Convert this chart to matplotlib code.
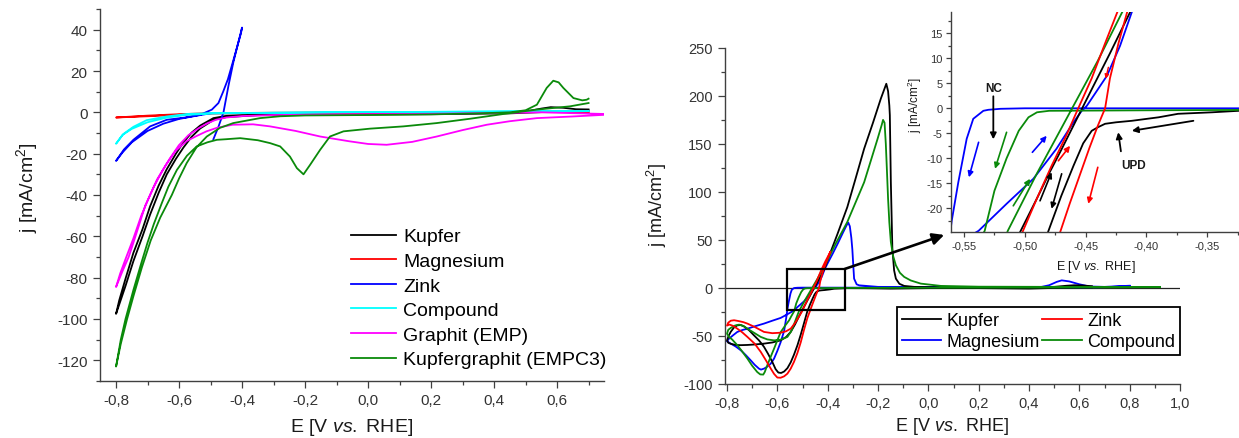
import matplotlib
matplotlib.use('Agg')
import matplotlib.pyplot as plt
from matplotlib.ticker import MultipleLocator, FuncFormatter
from matplotlib.patches import Rectangle
from matplotlib.lines import Line2D

# ---------------- data: left panel (E / V vs RHE, j / mA cm-2) ----------------
left_labels = ["Kupfer", "Magnesium", "Zink", "Compound", "Graphit (EMP)", "Kupfergraphit (EMPC3)"]

lk_E = [0.70, 0.60, 0.45, 0.20, -0.10, -0.35, -0.45, -0.49, -0.533, -0.56, -0.586, -0.61, -0.639, -0.665, -0.692, -0.716, -0.745, -0.77, -0.80,
        -0.79, -0.77, -0.745, -0.716, -0.692, -0.665, -0.639, -0.61, -0.586, -0.56, -0.533, -0.491, -0.45, -0.40, -0.20, 0.10, 0.40, 0.50, 0.55, 0.58, 0.62, 0.66, 0.70]
lk_j = [0.8, 0.4, -0.5, -0.9, -1.1, -1.4, -2.3, -3.6, -7.8, -11.8, -17, -22.5, -30, -39, -49.5, -60, -72, -84, -97.5,
        -91, -80.5, -68, -56.5, -45.5, -35.5, -27.5, -20, -14.5, -9.8, -6.4, -2.8, -1.7, -1.3, -1.0, -0.7, -0.3, 0.4, 1.8, 2.5, 2.2, 1.5, 1.4]

lm_E = [0.70, 0.30, 0.00, -0.30, -0.50, -0.60, -0.70, -0.80, -0.70, -0.60, -0.50, -0.30, 0.00, 0.30, 0.70]
lm_j = [0.2, 0.0, -0.1, -0.2, -0.4, -0.9, -1.6, -2.5, -1.9, -1.2, -0.6, -0.3, -0.1, 0.0, 0.2]

lz_E = [-0.491, -0.475, -0.459, -0.443, -0.428, -0.415, -0.400, -0.404, -0.415, -0.428, -0.445, -0.460, -0.475, -0.496, -0.533,
        -0.580, -0.639, -0.692, -0.745, -0.775, -0.800, -0.780, -0.750, -0.700, -0.650, -0.600, -0.550, -0.520, -0.500]
lz_j = [-13, -7, 0, 13, 24, 32, 41, 38, 32, 25, 16, 10, 4.5, 1.3, -1.2,
        -2.5, -3.6, -6.8, -13.3, -18, -23.5, -19.5, -14.5, -9, -5.5, -3.2, -1.8, -1.0, -0.5]

lc_E = [0.70, 0.30, 0.00, -0.30, -0.50, -0.576, -0.639, -0.703, -0.745, -0.777, -0.800, -0.780, -0.750, -0.700, -0.640, -0.580, -0.500, -0.300, 0.00, 0.30, 0.70]
lc_j = [0.6, 0.3, 0.1, -0.2, -0.4, -0.8, -2.0, -3.8, -7.0, -10.5, -15.2, -11.0, -8.0, -4.8, -2.6, -1.3, -0.6, -0.2, 0.1, 0.3, 0.6]

lg_E = [0.75, 0.65, 0.536, 0.45, 0.377, 0.30, 0.218, 0.14, 0.059, 0.00, -0.06, -0.152, -0.23, -0.311, -0.365, -0.43, -0.48,
        -0.513, -0.545, -0.577, -0.61, -0.64, -0.67, -0.692, -0.72, -0.745, -0.77, -0.787, -0.80,
        -0.78, -0.76, -0.749, -0.73, -0.707, -0.68, -0.654, -0.63, -0.601, -0.57, -0.537, -0.51, -0.483, -0.45, -0.40, -0.30, -0.10, 0.20, 0.40, 0.55, 0.75]
lg_j = [-1.2, -2.0, -2.8, -4.3, -6.0, -8.6, -11.7, -14.3, -15.7, -15.3, -14.0, -11.7, -9.0, -6.8, -5.8, -6.0, -7.5,
        -9.2, -11.5, -14.0, -18.5, -25.0, -32.5, -40.0, -50.0, -61.0, -71.0, -78.0, -84.5,
        -77.0, -70.0, -65.0, -56.0, -45.0, -36.0, -28.6, -22.5, -16.0, -11.0, -7.6, -5.3, -3.6, -2.5, -1.8, -1.3, -1.0, -0.7, -0.3, 0.0, -0.8]

lkg_E = [0.70, 0.641, 0.535, 0.43, 0.324, 0.218, 0.112, 0.006, -0.078, -0.121, -0.152, -0.184, -0.205, -0.226, -0.248, -0.279, -0.311,
         -0.35, -0.406, -0.45, -0.48, -0.51, -0.544, -0.575, -0.607, -0.634, -0.655, -0.68, -0.70, -0.72, -0.745, -0.77, -0.785, -0.80,
         -0.785, -0.765, -0.745, -0.718, -0.69, -0.66, -0.623, -0.60, -0.576, -0.545, -0.512, -0.47, -0.428, -0.343, -0.279, -0.20,
         0.00, 0.20, 0.35, 0.45, 0.50, 0.536, 0.567, 0.588, 0.605, 0.62, 0.652, 0.68, 0.694, 0.70]
lkg_j = [4.5, 2.9, 1.3, -0.8, -3.1, -5.2, -6.8, -7.9, -9.2, -11.7, -18.1, -25.4, -30.0, -27.0, -21.4, -16.5, -14.9,
         -13.5, -12.5, -13.0, -13.3, -14.5, -16.5, -21.0, -27.9, -36.0, -44.0, -54.0, -63.0, -73.0, -86.0, -100.0, -110.0, -123.0,
         -112, -100, -89, -75, -62, -51, -40, -32, -24.6, -17, -11.7, -7.5, -5.2, -2.8, -1.9, -1.5,
         -1.3, -1.0, -0.5, 0.0, 1.0, 3.7, 11.8, 15.3, 14.5, 11.8, 6.9, 5.8, 6.1, 6.6]

# ---------------- data: right panel ----------------
right_labels = ["Kupfer", "Magnesium", "Zink", "Compound"]

rk_E = [0.65, 0.50, 0.40, 0.20, 0.00, -0.15, -0.25, -0.324, -0.346, -0.374, -0.390, -0.412, -0.425, -0.434, -0.440, -0.445, -0.452, -0.460, -0.470, -0.481,
        -0.494, -0.507, -0.520, -0.534, -0.547, -0.560, -0.573, -0.585, -0.596, -0.607, -0.620, -0.637, -0.653, -0.673, -0.693, -0.712, -0.732, -0.745, -0.759, -0.772,
        -0.785, -0.793, -0.800,
        -0.795, -0.785, -0.765, -0.745, -0.720, -0.690, -0.653, -0.620, -0.587, -0.565, -0.547, -0.530, -0.514, -0.504, -0.490, -0.480, -0.470, -0.457, -0.445, -0.430,
        -0.4135, -0.390, -0.361, -0.322, -0.290, -0.255, -0.220, -0.189, -0.175, -0.167, -0.160, -0.155, -0.153, -0.149, -0.143, -0.136, -0.129, -0.115, -0.096, -0.056,
        0.00, 0.20, 0.40, 0.50, 0.55, 0.58, 0.61, 0.65]
rk_j = [0.3, -0.3, -1.0, -0.5, -0.5, -1.0, -0.6, -0.5, -0.8, -1.1, -1.8, -2.5, -2.8, -3.1, -3.8, -4.5, -7.0, -11.5, -17.5, -24.8,
        -37.0, -49.0, -60.0, -70.0, -78.0, -84.0, -87.5, -89.0, -88.6, -85.0, -77.5, -69.0, -61.8, -55.0, -49.7, -44.5, -40.5, -39.0, -39.3, -41.5,
        -46.0, -50.0, -55.0,
        -57.5, -58.6, -59.8, -60.0, -59.8, -59.3, -58.4, -57.2, -55.0, -51.5, -46.2, -38.5, -30.0, -24.8, -18.0, -13.0, -8.3, -2.0, 3.8, 11.0,
        19.2, 36.0, 56.0, 84.0, 113.0, 145.0, 172.0, 197.0, 207.0, 212.7, 205.0, 190.0, 180.0, 110.0, 41.0, 18.0, 9.4, 4.0, 1.8, 0.8,
        0.5, 0.4, 0.5, 0.8, 2.0, 2.5, 2.3, 1.5]

rm_E = [0.80, 0.70, 0.60, 0.40, 0.20, 0.00, -0.20, -0.40, -0.50, -0.52, -0.530, -0.5341, -0.5424, -0.5478, -0.5547, -0.5601, -0.565, -0.573, -0.587, -0.600,
        -0.613, -0.626, -0.640, -0.653, -0.665, -0.673, -0.690, -0.706, -0.725, -0.745, -0.765, -0.785, -0.800,
        -0.792, -0.775, -0.759, -0.740, -0.719, -0.685, -0.653, -0.620, -0.587, -0.565, -0.547, -0.538, -0.515, -0.493, -0.474, -0.460, -0.4532, -0.449, -0.4325, -0.4217,
        -0.4121, -0.400, -0.380, -0.360, -0.340, -0.325, -0.318, -0.312, -0.306, -0.302, -0.298, -0.295, -0.285, -0.275, -0.20,
        0.00, 0.20, 0.40, 0.45, 0.48, 0.51, 0.53, 0.56, 0.60, 0.64, 0.70, 0.80]
rm_j = [1.5, 0.5, 0.2, 0.0, 0.0, 0.0, 0.0, 0.0, 0.0, -0.1, -0.3, -0.5, -2.1, -6.1, -14.8, -22.5, -32.0, -45.0, -57.0, -66.0,
        -74.0, -79.2, -82.5, -84.5, -85.5, -84.5, -80.5, -75.8, -70.5, -65.4, -61.5, -58.4, -56.0,
        -53.2, -49.5, -46.2, -44.3, -42.8, -40.0, -37.5, -34.5, -31.6, -28.5, -25.8, -24.5, -19.1, -14.1, -8.1, -2.8, -0.5, 0.5, 6.5, 12.5,
        19.2, 25.5, 35.5, 46.0, 57.0, 65.0, 67.8, 64.0, 52.0, 40.0, 22.0, 9.4, 3.5, 2.4, 0.8,
        0.5, 0.5, 0.5, 0.8, 2.5, 6.0, 7.6, 6.5, 3.5, 1.2, 0.8, 2.0]

rz_E = [-0.390, -0.405, -0.415, -0.423, -0.430, -0.434, -0.440, -0.447, -0.455, -0.463, -0.471, -0.481, -0.494, -0.507, -0.520, -0.534, -0.547, -0.560, -0.573, -0.587,
        -0.600, -0.613, -0.626, -0.645, -0.666, -0.690, -0.719, -0.740, -0.759, -0.775, -0.790, -0.800,
        -0.795, -0.785, -0.772, -0.755, -0.735, -0.719, -0.690, -0.653, -0.620, -0.587, -0.565, -0.547, -0.530, -0.517, -0.502, -0.490, -0.478, -0.466, -0.457, -0.445,
        -0.434, -0.424, -0.410, -0.390]
rz_j = [37, 27, 20, 13, 6, 0, -3.5, -8, -13.5, -19, -24.8, -32, -44, -57, -68, -77.5, -84.5, -89.7, -92.5, -94,
        -93.8, -90, -84.5, -76, -67, -58.5, -51.4, -46.5, -42.8, -40, -38.5, -39.6,
        -36.5, -34.5, -34, -34.8, -36, -37.5, -41, -46.2, -47.5, -47, -45.5, -42.8, -37, -31.5, -24.8, -18, -11.5, -5.5, -0.5, 6,
        13, 19.2, 27, 37]

rc_E = [0.92, 0.60, 0.20, -0.20, -0.40, -0.48, -0.490, -0.497, -0.505, -0.515, -0.525, -0.533, -0.545, -0.553, -0.570, -0.587, -0.600, -0.613, -0.627, -0.640,
        -0.650, -0.656, -0.668, -0.680, -0.700, -0.719, -0.740, -0.759, -0.780, -0.792, -0.800,
        -0.795, -0.785, -0.768, -0.752, -0.735, -0.719, -0.690, -0.666, -0.640, -0.613, -0.587, -0.560, -0.545, -0.532, -0.522, -0.514, -0.490, -0.470, -0.460, -0.440,
        -0.420, -0.414, -0.370, -0.322, -0.255, -0.202, -0.185, -0.180, -0.174, -0.169, -0.165, -0.160, -0.155, -0.149, -0.140, -0.129, -0.113, -0.096, -0.070, -0.030,
        0.050, 0.200, 0.500, 0.920]
rc_j = [0.5, 0.2, 0.0, -0.2, -0.4, -0.5, -0.8, -1.8, -4.5, -10.0, -16.5, -24.5, -30.0, -34.0, -40.0, -46.5, -55.0, -63.6, -72.5, -81.0,
        -88.0, -90.7, -90.5, -88.0, -81.5, -74.0, -66.5, -60.0, -54.0, -51.4, -48.0,
        -44, -42, -39.5, -38.6, -40, -42.8, -47.5, -51.4, -54, -55, -54.3, -51.4, -45.5, -37, -30, -24.5, -13, -4, 0.5, 9.5,
        19.2, 21.6, 45, 68.5, 110, 155, 170, 175, 172, 150, 125, 92.8, 68, 47.7, 33, 23.3, 15.5, 11.2, 7.5, 4.2,
        1.8, 1.0, 0.8, 0.6]

# ---------------- style ----------------
plt.rcParams['font.family'] = ['Liberation Sans', 'DejaVu Sans']
plt.rcParams['axes.unicode_minus'] = False
plt.rcParams['mathtext.fontset'] = 'custom'
plt.rcParams['mathtext.rm'] = 'Liberation Sans'
plt.rcParams['mathtext.it'] = 'Liberation Sans:italic'
plt.rcParams['mathtext.bf'] = 'Liberation Sans:bold'

W, H = 1239, 439
fig = plt.figure(figsize=(W / 100, H / 100), dpi=100)

SPINE = '#404040'
TXT = '#333333'
GREEN = '#0a8a0a'
LW = 1.3


def comma_fmt(nd):
    def f(v, pos):
        if abs(v) < 1e-9:
            v = 0.0
        return f"{v:.{nd}f}".replace('.', ',')
    return FuncFormatter(f)


def int_fmt():
    return FuncFormatter(lambda v, p: f"{int(round(v))}")


def style(ax, fs, maj, mnr, pad):
    for s in ['top', 'right']:
        ax.spines[s].set_visible(False)
    for s in ['left', 'bottom']:
        ax.spines[s].set_color(SPINE)
        ax.spines[s].set_linewidth(1.0)
    ax.tick_params(which='both', direction='out', colors=SPINE, labelcolor=TXT,
                   labelsize=fs, width=0.9, pad=pad)
    ax.tick_params(which='major', length=maj)
    ax.tick_params(which='minor', length=mnr)


# ---------------- left panel ----------------
axL = fig.add_axes([100 / W, 1 - 382 / H, 504 / W, 372 / H])
left_series = [(lk_E, lk_j, 'black'), (lm_E, lm_j, '#ff0000'), (lz_E, lz_j, '#0000ff'),
               (lc_E, lc_j, '#00ffff'), (lg_E, lg_j, '#ff00ff'), (lkg_E, lkg_j, GREEN)]
handlesL = []
for (E, j, c), lab in zip(left_series, left_labels):
    ln, = axL.plot(E, j, color=c, lw=LW, label=lab)
    handlesL.append(ln)
axL.set_xlim(-0.851, 0.749)
axL.set_ylim(-130, 50)
axL.xaxis.set_major_locator(MultipleLocator(0.2))
axL.xaxis.set_minor_locator(MultipleLocator(0.1))
axL.yaxis.set_major_locator(MultipleLocator(20))
axL.yaxis.set_minor_locator(MultipleLocator(10))
axL.xaxis.set_major_formatter(comma_fmt(1))
axL.yaxis.set_major_formatter(int_fmt())
style(axL, 11, 5, 3, 4)
axL.legend(handles=handlesL, loc='upper left', bbox_to_anchor=(0.499, 0.412), frameon=False,
           fontsize=14, handlelength=2.3, handletextpad=0.35, labelspacing=0.36,
           borderaxespad=0, borderpad=0)
fig.text(27 / W, 1 - 188 / H, r'j [mA/cm$^2$]', rotation=90, ha='center', va='center',
         fontsize=14, color='#1a1a1a')
fig.text(352 / W, 1 / H, r'E [V $\mathit{vs.}$ RHE]', ha='center', va='bottom',
         fontsize=14, color='#1a1a1a')

# ---------------- right main panel ----------------
axR = fig.add_axes([725 / W, 1 - 384.5 / H, 455 / W, 335.5 / H])
axR.axhline(0, color='#222222', lw=0.9, zorder=1)
right_series = {'Kupfer': (rk_E, rk_j, 'black'), 'Magnesium': (rm_E, rm_j, '#0000ff'),
                'Zink': (rz_E, rz_j, '#ff0000'), 'Compound': (rc_E, rc_j, GREEN)}
draw_order = ['Magnesium', 'Kupfer', 'Compound', 'Zink']
for name in draw_order:
    E, j, c = right_series[name]
    axR.plot(E, j, color=c, lw=LW, zorder=3)
axR.set_xlim(-0.808, 1.0)
axR.set_ylim(-100, 250)
axR.xaxis.set_major_locator(MultipleLocator(0.2))
axR.xaxis.set_minor_locator(MultipleLocator(0.1))
axR.yaxis.set_major_locator(MultipleLocator(50))
axR.yaxis.set_minor_locator(MultipleLocator(25))
axR.xaxis.set_major_formatter(comma_fmt(1))
axR.yaxis.set_major_formatter(int_fmt())
style(axR, 10.5, 5, 3, 4)

handlesR = [Line2D([], [], color=right_series[n][2], lw=LW) for n in right_labels]
legR = axR.legend(handles=handlesR, labels=right_labels, ncol=2, loc='upper left',
                  bbox_to_anchor=(0.378, 0.0, 0.622, 0.2271), mode='expand',
                  fontsize=13, frameon=True, fancybox=False, edgecolor='black', framealpha=1,
                  borderpad=0.25, handlelength=2.2, handletextpad=0.3, labelspacing=0.25,
                  columnspacing=0.3, borderaxespad=0)
legR.get_frame().set_linewidth(1.3)
legR.set_zorder(5)

# zoom rectangle and arrow
axR.add_patch(Rectangle((-0.563, -23.5), 0.231, 43.0, fill=False, ec='black', lw=1.6, zorder=6))
axR.annotate('', xy=(0.063, 55), xytext=(-0.332, 19.5),
             arrowprops=dict(arrowstyle='-|>', color='black', lw=1.9, mutation_scale=17,
                             shrinkA=0, shrinkB=0), annotation_clip=False, zorder=6)

fig.text(657 / W, 1 - 205 / H, r'j [mA/cm$^2$]', rotation=90, ha='center', va='center',
         fontsize=13, color='#1a1a1a')
fig.text(952 / W, 2 / H, r'E [V $\mathit{vs.}$ RHE]', ha='center', va='bottom',
         fontsize=13, color='#1a1a1a')

# ---------------- inset ----------------
axI = fig.add_axes([951 / W, 1 - 233.3 / H, 288 / W, 220 / H])
axI.patch.set_alpha(0)
for name in draw_order:
    E, j, c = right_series[name]
    axI.plot(E, j, color=c, lw=LW)
axI.set_xlim(-0.5607, -0.3239)
axI.set_ylim(-24.8, 19.2)
axI.xaxis.set_major_locator(MultipleLocator(0.05))
axI.xaxis.set_minor_locator(MultipleLocator(0.025))
axI.yaxis.set_major_locator(MultipleLocator(5))
axI.yaxis.set_minor_locator(MultipleLocator(2.5))
axI.xaxis.set_major_formatter(comma_fmt(2))
axI.yaxis.set_major_formatter(int_fmt())
style(axI, 8, 3.5, 2, 2.5)
fig.text(915 / W, 1 - 105 / H, r'j [mA/cm$^2$]', rotation=90, ha='center', va='center',
         fontsize=8.5, color='#1a1a1a')
fig.text(1096 / W, 1 - 267 / H, r'E [V $\mathit{vs.}$ RHE]', ha='center', va='center',
         fontsize=9, color='#1a1a1a')


def arrow(ax, tail, tip, c, lw=1.2, ms=8):
    ax.annotate('', xy=tip, xytext=tail,
                arrowprops=dict(arrowstyle='-|>', color=c, lw=lw, mutation_scale=ms,
                                shrinkA=0, shrinkB=0), annotation_clip=False)


axI.text(-0.5259, 4.0, 'NC', fontsize=8.5, fontweight='bold', ha='center', va='center', color='#1a1a1a')
arrow(axI, (-0.5259, 2.4), (-0.5259, -6.2), 'black', 1.3, 9)
axI.text(-0.4108, -11.3, 'UPD', fontsize=8.5, fontweight='bold', ha='center', va='center', color='#1a1a1a')
arrow(axI, (-0.421, -8.6), (-0.4232, -4.8), 'black', 1.3, 9)
arrow(axI, (-0.3614, -2.5), (-0.412, -4.5), 'black', 1.3, 9)

arrow(axI, (-0.538, -6.8), (-0.546, -13.8), '#0000ff')
arrow(axI, (-0.515, -4.8), (-0.5245, -12.1), GREEN)
arrow(axI, (-0.4938, -8.8), (-0.482, -5.5), '#0000ff')
arrow(axI, (-0.5095, -19.5), (-0.4957, -14.1), GREEN)
arrow(axI, (-0.4724, -10.5), (-0.4628, -7.5), '#ff0000')
arrow(axI, (-0.4875, -18.5), (-0.478, -12.8), 'black')
arrow(axI, (-0.4697, -13.1), (-0.478, -20.1), 'black')
arrow(axI, (-0.44, -11.8), (-0.4478, -19.1), '#ff0000')
arrow(axI, (-0.4313, 8.2), (-0.4335, 5.9), '#ff0000', 1.0, 6)

fig.savefig('out.png', dpi=100)
